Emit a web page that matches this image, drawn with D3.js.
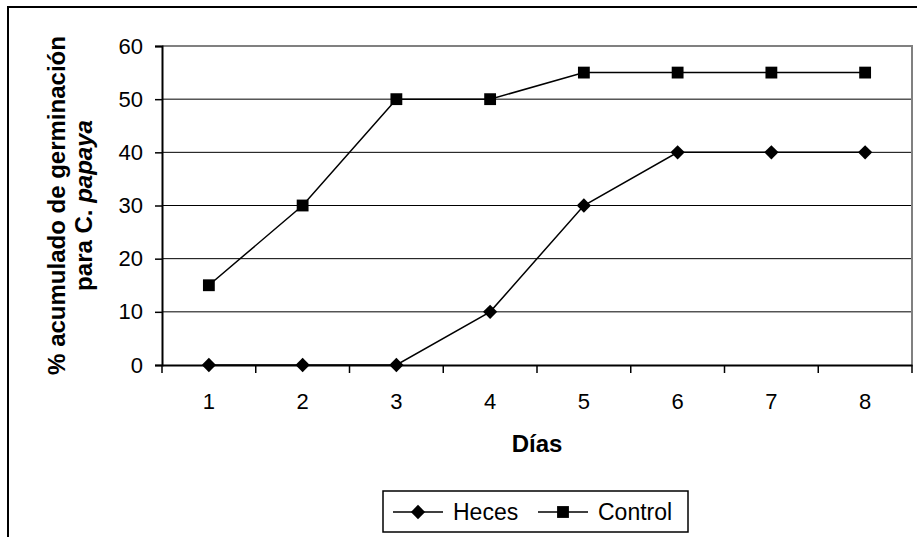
<!DOCTYPE html>
<html>
<head>
<meta charset="utf-8">
<script src="https://cdn.jsdelivr.net/npm/d3@7"></script>
<style>
  body { margin: 0; background: #fff; }
  svg { display: block; font-family: "Liberation Sans", Arial, sans-serif; }
</style>
</head>
<body>
<svg id="chart" width="917" height="537"></svg>
<script>
const width = 917;
const height = 537;

// data
const days = ["1", "2", "3", "4", "5", "6", "7", "8"];
const heces = [0, 0, 0, 10, 30, 40, 40, 40];
const control = [15, 30, 50, 50, 55, 55, 55, 55];
const yTicks = [0, 10, 20, 30, 40, 50, 60];

const plot = { left: 162, right: 912, top: 46, bottom: 365 };

const svg = d3.select("#chart");
svg.append("rect").attr("width", width).attr("height", height).attr("fill", "#fff");

// outer frame (top and left only visible)
svg.append("path")
  .attr("d", `M8,${height} V7 H${width}`)
  .attr("fill", "none").attr("stroke", "#000").attr("stroke-width", 2);

const x = d3.scaleBand().domain(days).range([plot.left, plot.right]);
const y = d3.scaleLinear().domain([0, 60]).range([plot.bottom, plot.top]);

// gridlines
svg.append("g")
  .selectAll("line")
  .data(yTicks.filter(d => d > 0 && d < 60))
  .join("line")
  .attr("x1", plot.left).attr("x2", plot.right)
  .attr("y1", d => y(d)).attr("y2", d => y(d))
  .attr("stroke", "#000").attr("stroke-width", 1);

// plot border top / right in grey
svg.append("path")
  .attr("d", `M${plot.left},${y(60)} H${plot.right} V${plot.bottom}`)
  .attr("fill", "none").attr("stroke", "#808080").attr("stroke-width", 2);

// y axis
const yAxis = svg.append("g")
  .attr("transform", `translate(${plot.left},0)`)
  .call(d3.axisLeft(y).tickValues(yTicks).tickSize(7).tickPadding(12));
yAxis.select(".domain").attr("stroke-width", 2);
yAxis.selectAll(".tick line").attr("stroke-width", 1.5);
yAxis.selectAll(".tick text").attr("font-size", 22).attr("font-family", "Liberation Sans, Arial").attr("fill", "#000");

// x axis: ticks at category boundaries
const xAxis = svg.append("g")
  .attr("transform", `translate(0,${plot.bottom})`)
  .call(d3.axisBottom(x).tickSize(0).tickPadding(28));
xAxis.select(".domain").attr("stroke-width", 2);
xAxis.selectAll(".tick text").attr("font-size", 22).attr("font-family", "Liberation Sans, Arial").attr("fill", "#000");
svg.append("g")
  .selectAll("line")
  .data(days.map(d => x(d)).concat([plot.right]))
  .join("line")
  .attr("x1", d => d).attr("x2", d => d)
  .attr("y1", plot.bottom).attr("y2", plot.bottom + 8)
  .attr("stroke", "#000").attr("stroke-width", 1.5);

const cx = d => x(d) + x.bandwidth() / 2;
const line = d3.line().x(d => cx(d.day)).y(d => y(d.value));

const diamond = d3.symbol().type(d3.symbolDiamond2).size(130);
const square = d3.symbol().type(d3.symbolSquare).size(140);

function drawSeries(values, sym) {
  const pts = days.map((day, i) => ({ day, value: values[i] }));
  svg.append("path")
    .datum(pts)
    .attr("d", line)
    .attr("fill", "none").attr("stroke", "#000").attr("stroke-width", 1.5);
  svg.append("g")
    .selectAll("path")
    .data(pts)
    .join("path")
    .attr("transform", d => `translate(${cx(d.day)},${y(d.value)})`)
    .attr("d", sym)
    .attr("fill", "#000");
}
drawSeries(heces, diamond);
drawSeries(control, square);

// axis titles
svg.append("text")
  .attr("x", (plot.left + plot.right) / 2).attr("y", 452)
  .attr("text-anchor", "middle")
  .attr("font-size", 24).attr("font-weight", "bold")
  .text("Días");

const yt = svg.append("text")
  .attr("transform", `translate(0,${(plot.top + plot.bottom) / 2}) rotate(-90)`)
  .attr("text-anchor", "middle")
  .attr("font-size", 24).attr("font-weight", "bold");
yt.append("tspan").attr("x", 0).attr("y", 65).text("% acumulado de germinación");
const l2 = yt.append("tspan").attr("x", 0).attr("y", 92);
l2.append("tspan").text("para ");
l2.append("tspan").text("C. ");
l2.append("tspan").attr("font-style", "italic").text("papaya");

// legend
const legend = svg.append("g");
legend.append("rect")
  .attr("x", 383).attr("y", 491).attr("width", 305).attr("height", 41)
  .attr("fill", "#fff").attr("stroke", "#000").attr("stroke-width", 1.5);

const legendItems = [
  { name: "Heces", sym: diamond, x0: 393 },
  { name: "Control", sym: square, x0: 538 }
];
const ly = 512;
legendItems.forEach(item => {
  legend.append("line")
    .attr("x1", item.x0).attr("x2", item.x0 + 50)
    .attr("y1", ly).attr("y2", ly)
    .attr("stroke", "#000").attr("stroke-width", 1.5);
  legend.append("path")
    .attr("transform", `translate(${item.x0 + 25},${ly})`)
    .attr("d", item.sym).attr("fill", "#000");
  legend.append("text")
    .attr("x", item.x0 + 60).attr("y", ly + 8)
    .attr("font-size", 23)
    .text(item.name);
});
</script>
</body>
</html>
